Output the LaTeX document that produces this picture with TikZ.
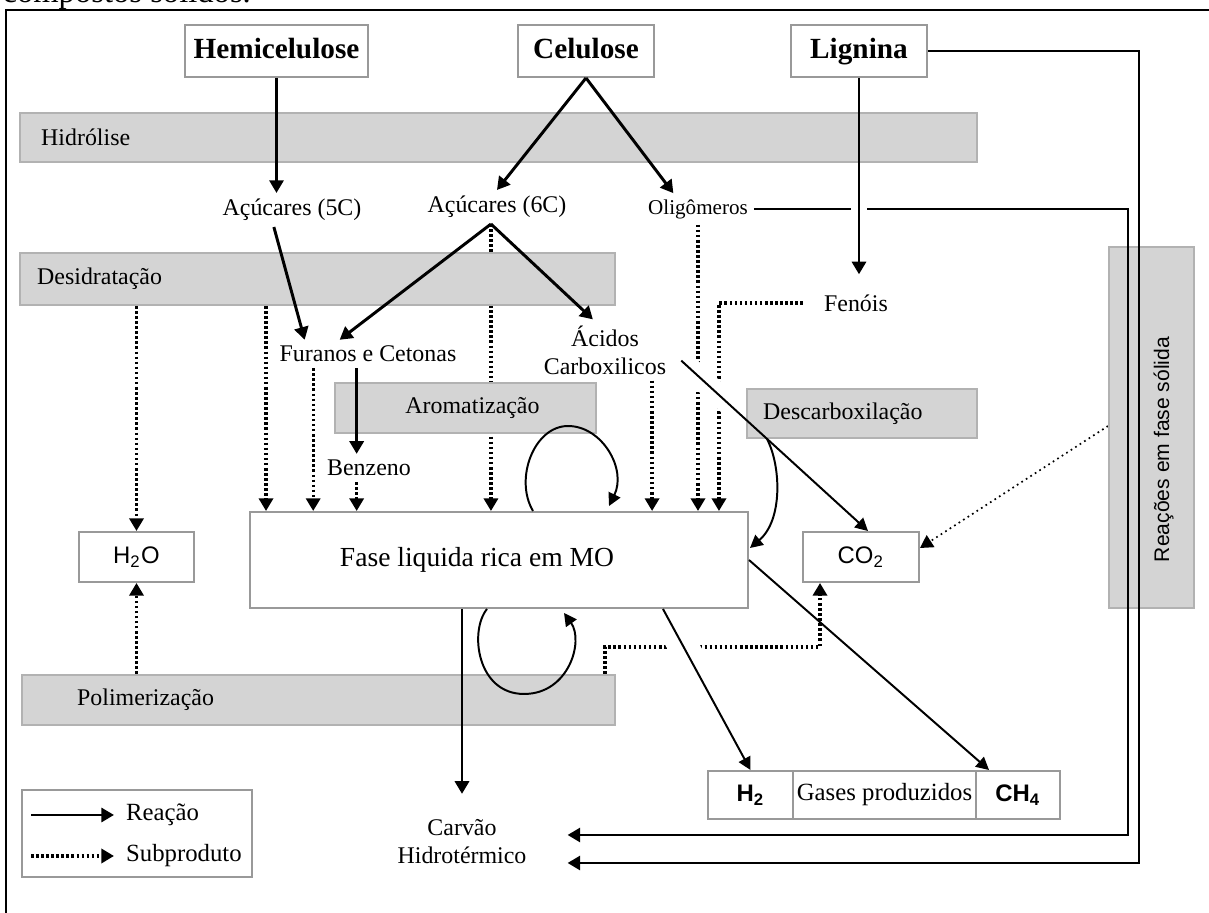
\documentclass[tikz,border=0pt]{standalone}
\usepackage{fontspec}
\setmainfont{Liberation Serif}
\setsansfont{Liberation Sans}
\usetikzlibrary{arrows.meta,calc}
\newlength\pxu
\setlength\pxu{0.0125cm}
\pgfdeclarelayer{dots}
\pgfdeclarelayer{gaps}
\pgfsetlayers{dots,gaps,main}

\begin{document}
\begin{tikzpicture}[x=0.0125cm, y=-0.0125cm,
    lbl/.style={font=\fontsize{8.5}{10}\selectfont, inner sep=2pt},
    compbox/.style={draw=black!40, line width=0.7pt, fill=white, inner sep=0pt,
      minimum height=52\pxu, text height=0.7em, text depth=0.2em,
      font=\bfseries\fontsize{10.4}{12}\selectfont},
    prodbox/.style={draw=black!40, line width=0.7pt, fill=white, inner sep=0pt,
      font=\sffamily\fontsize{8.5}{10}\selectfont},
    stepbar/.style={draw=black!30, fill=black!17, line width=0.7pt, inner sep=0pt,
      font=\fontsize{8.5}{10}\selectfont},
    reacao/.style={line width=1.05pt, -{Triangle[length=4.5pt,width=5pt]}},
    reacfina/.style={line width=0.7pt, -{Triangle[length=4.5pt,width=4.6pt]}},
    subprod/.style={line width=1.2pt, dash pattern=on 0.9pt off 0.9pt,
      -{Triangle[length=4.5pt,width=5pt]}},
    corte/.style={draw=white, line width=#1}]

  \useasboundingbox (0,0) rectangle (1209,913);
  \node[anchor=base west, inner sep=0pt, font=\fontsize{11.6}{14}\selectfont] (capt)
    at (2,3) {compostos sólidos.};
  \draw[line width=0.7pt] (6,913) -- (6,10) -- (1209,10);

  \begin{pgfonlayer}{gaps}
    \node[stepbar, minimum width=85\pxu, minimum height=361\pxu] (reac) at (1151.5,427.5) {};
  \end{pgfonlayer}

  % componentes
  \node[compbox, minimum width=183\pxu] (hemi) at (276.5,51) {Hemicelulose};
  \node[compbox, minimum width=136\pxu] (cel) at (586,51) {Celulose};
  \node[compbox, minimum width=136\pxu] (lig) at (859,51) {Lignina};

  % etapas
  \node[stepbar, minimum width=957\pxu, minimum height=49\pxu] (hidr) at (498.5,137.5) {};
  \node[lbl, anchor=west] (hidrl) at ($(hidr.west)+(16,0)$) {Hidrólise};
  \node[stepbar, minimum width=595\pxu, minimum height=52\pxu] (desid) at (317.5,279) {};
  \node[lbl, anchor=west] (desidl) at ($(desid.west)+(12,0)$) {Desidratação};
  \node[stepbar, minimum width=261\pxu, minimum height=50\pxu] (arom) at (465.5,408) {};
  \node[lbl] (aroml) at ($(arom.center)+(7,0)$) {Aromatização};
  \node[stepbar, minimum width=230\pxu, minimum height=49\pxu] (descarb) at (862,413.5) {};
  \node[lbl, anchor=west] (descarbl) at ($(descarb.west)+(11,0)$) {Descarboxilação};
  \node[stepbar, minimum width=593\pxu, minimum height=50\pxu] (polim) at (318.5,700) {};
  \node[lbl, anchor=west] (poliml) at ($(polim.west)+(50,0)$) {Polimerização};
  \node[font=\sffamily\fontsize{7.5}{9}\selectfont, rotate=90] (reacl)
    at ($(reac.center)+(12,22)$) {Reações em fase sólida};

  % intermediarios
  \node[lbl] (a5) at (292,210) {Açúcares (5C)};
  \node[lbl] (a6) at (497,207) {Açúcares (6C)};
  \node[lbl, font=\fontsize{7.5}{9}\selectfont] (olig) at (698,209) {Oligômeros};
  \node[lbl] (fen) at (856,303) {Fenóis};
  \node[lbl] (fur) at (368,354) {Furanos e Cetonas};
  \node[lbl, align=center] (acid) at (605,350) {Ácidos\\Carboxilicos};
  \node[lbl] (benz) at (369,468) {Benzeno};

  % produtos
  \node[prodbox, minimum width=498\pxu, minimum height=96\pxu] (fase) at (499,560) {};
  \node[lbl, font=\fontsize{9.8}{12}\selectfont] (fasel)
    at ($(fase.center)+(-22,0)$) {Fase liquida rica em MO};
  \node[prodbox, minimum width=115\pxu, minimum height=50\pxu] (h2o) at (136.5,557) {H\textsubscript{2}O};
  \node[prodbox, minimum width=116\pxu, minimum height=50\pxu] (co2) at (861,557) {CO\textsubscript{2}};
  \node[prodbox, font=\sffamily\bfseries\fontsize{8.5}{10}\selectfont,
    minimum width=85\pxu, minimum height=48\pxu] (h2) at (750.5,795) {H\textsubscript{2}};
  \node[prodbox, font=\fontsize{8.8}{10}\selectfont,
    minimum width=183\pxu, minimum height=48\pxu] (gp) at (884.5,795) {Gases produzidos};
  \node[prodbox, font=\sffamily\bfseries\fontsize{8.5}{10}\selectfont,
    minimum width=84\pxu, minimum height=48\pxu] (ch4) at (1018,795) {CH\textsubscript{4}};
  \node[lbl, align=center] (carv) at (462,842) {Carvão\\Hidrotérmico};

  % legenda
  \node[prodbox, minimum width=230\pxu, minimum height=87\pxu] (leg) at (137,833.5) {};
  \node[lbl, font=\fontsize{8.8}{10}\selectfont, anchor=west] (lreac) at (120,815) {Reação};
  \node[lbl, font=\fontsize{8.8}{10}\selectfont, anchor=west] (lsub) at (120,856) {Subproduto};

  \coordinate (a6b) at ($(a6.south west)!.46!(a6.south east)$);
  \coordinate (fb) at ($(fur.south west)!.44!(fur.south east)$);
  \coordinate (cv1) at ($(carv.east)+(35,-7)$);
  \coordinate (cv2) at ($(carv.east)+(35,21)$);
  \coordinate (c12a) at ($(acid.south east)+(9,-20)$);
  \coordinate (c12b) at ($(co2.north)+(7,0)$);
  \coordinate (c10a) at ($(fase.south east)+(-86,0)$);

  \begin{pgfonlayer}{dots}
    \draw[subprod] (h2o |- desid.south) -- (h2o);
    \draw[subprod] (h2o |- polim.north) -- (h2o);
    \coordinate (d3) at ($(fase.north west)+(17,0)$);
    \draw[subprod] (d3 |- desid.south) -- (d3);
    \coordinate (d4) at ($(fur.south west)!.21!(fur.south east)$);
    \draw[subprod] (d4) -- (d4 |- fase.north);
    \draw[subprod] (fb |- benz.south) -- (fb |- fase.north);
    \draw[subprod] (a6b) -- (a6b |- fase.north);
    \coordinate (ac) at ($(acid.south west)!.85!(acid.south east)$);
    \draw[subprod] (ac) -- (ac |- fase.north);
    \draw[subprod] (olig.south) -- (olig |- fase.north);
    \coordinate (d9) at ($(fase.north east)+(-30,0)$);
    \draw[subprod] ($(fen.west)+(-15,0)$) -| (d9);
    \coordinate (p10) at ($(polim.north east)+(-11,0)$);
    \coordinate (c10) at ($(co2.south west)+(18,0)$);
    \draw[subprod] (p10) -- ++(0,-27) -| (c10);
    \draw[subprod, line width=0.6pt, dash pattern=on 0.6pt off 1.3pt]
      ($(reac.north west)+(0,180)$) -- ($(co2.east)+(0,-9)$);
  \end{pgfonlayer}

  \begin{pgfonlayer}{gaps}
    \draw[reacao] (olig.east) -- ++(374,0) |- (cv1);
    \draw[corte=0.2cm] (lig) -- (lig |- fen.north);
    \draw[corte=0.28cm] (c12a) -- (c12b);
    \draw[corte=0.38cm] (c10a) -- (h2.north);
  \end{pgfonlayer}

  \draw[reacao] (hemi) -- (hemi |- a5.north);
  \draw[reacao] (cel.south) -- (a6.north);
  \draw[reacao] (cel.south) -- ($(olig.north west)!.28!(olig.north east)$);
  \draw[reacao, shorten >=5pt] (lig) -- (lig |- fen.north);
  \draw[reacao] ($(a5.south west)!.38!(a5.south east)$) -- ($(fur.north west)!.165!(fur.north east)$);
  \draw[reacao] (a6b) -- ($(fur.north west)!.35!(fur.north east)$);
  \draw[reacao] (a6b) -- ($(acid.north west)!.41!(acid.north east)$);
  \draw[reacao] (fb) -- (fb |- benz.north);
  \draw[reacao, shorten >=7pt] (fase.south -| carv) -- (carv);
  \draw[reacao] (lig.east) -- ++(211,0) |- (cv2);

  \draw[reacfina] (c10a) -- (h2.north);
  \draw[reacfina] (fase.east) -- ($(ch4.north west)+(14,0)$);
  \draw[reacfina] (c12a) -- (c12b);
  \draw[reacfina] ($(descarb.south west)+(21,0)$) .. controls +(14,27) and +(33,-28)
    .. ($(fase.east)+(1,-12)$);
  \coordinate (la) at ($(fase.north west)+(284,0)$);
  \coordinate (lt) at ($(fase.north west)+(319,-85)$);
  \coordinate (lb) at ($(fase.north west)+(360,-5)$);
  \draw[reacfina] (la) .. controls +(-19,-32) and +(-34,0) .. (lt)
    .. controls +(34,0) and +(18,-37) .. (lb);
  \coordinate (lc) at ($(fase.south west)+(238,0)$);
  \coordinate (lm) at ($(fase.south west)+(275,85)$);
  \coordinate (ld) at ($(fase.south west)+(315,4)$);
  \draw[reacfina] (lc) .. controls +(-18,22) and +(-47,0) .. (lm)
    .. controls +(45,0) and +(20,28) .. (ld);

  \draw[reacao] ($(lreac.west)+(-89,0)$) -- ($(lreac.west)+(-6,0)$);
  \draw[subprod] ($(lsub.west)+(-89,0)$) -- ($(lsub.west)+(-6,0)$);
\end{tikzpicture}
\end{document}
